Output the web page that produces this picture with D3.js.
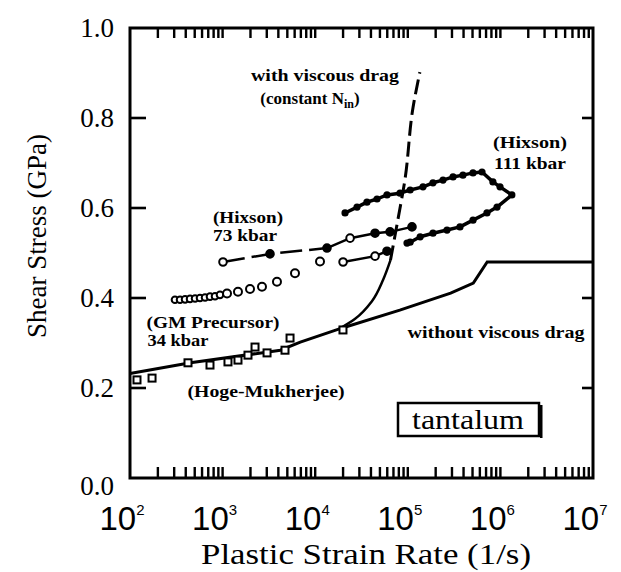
<!DOCTYPE html>
<html><head><meta charset="utf-8">
<script src="https://cdn.jsdelivr.net/npm/d3@7"></script>
<style>body{margin:0;background:#fff}svg{display:block}</style>
</head><body>
<svg id="chart" width="621" height="572"></svg>
<script>
// ---- data ----
const xDecades = [2, 3, 4, 5, 6, 7];
const yTicks = [0.0, 0.2, 0.4, 0.6, 0.8, 1.0];

const noDragRate   = [1e2, 4.5e2, 4.2e3, 6.9e3, 2.0e4, 8.2e4, 2.9e5, 5.1e5, 7.2e5, 1e7];
const noDragStress = [0.232, 0.256, 0.284, 0.302, 0.334, 0.373, 0.411, 0.433, 0.48, 0.48];

const viscousRate   = [1.8e4, 2.7e4, 4.1e4, 5.4e4, 6.5e4, 7.8e4, 9.3e4, 1.14e5, 1.35e5];
const viscousStress = [0.331, 0.354, 0.393, 0.44, 0.484, 0.573, 0.662, 0.824, 0.902];

const hogeRate   = [119, 173, 423, 731, 1143, 1466, 1880, 2240, 3020, 4720, 5350, 19950];
const hogeStress = [0.218, 0.222, 0.256, 0.251, 0.258, 0.262, 0.273, 0.291, 0.278, 0.284, 0.311, 0.329];

const gmRate   = [306, 347, 393, 445, 504, 570, 646, 731, 828, 937, 1116, 1466, 1977, 2663, 3865, 6050, 11270];
const gmStress = [0.396, 0.396, 0.397, 0.398, 0.399, 0.400, 0.401, 0.403, 0.404, 0.407, 0.410, 0.414, 0.420, 0.425, 0.436, 0.455, 0.481];

const h73Rate   = [1010, 3250, 1.34e4, 2.38e4, 4.43e4, 6.43e4, 1.11e5];
const h73Stress = [0.48, 0.498, 0.511, 0.533, 0.544, 0.547, 0.558];
const h73Open   = [true, false, false, true, false, false, false];

const hLowRate   = [2.0e4, 4.43e4, 5.96e4];
const hLowStress = [0.48, 0.493, 0.504];
const hLowOpen   = [true, true, false];

const h111Rate   = [2.1e4, 2.83e4, 3.62e4, 4.65e4, 5.96e4, 8.24e4, 1.06e5, 1.46e5, 1.87e5, 2.4e5, 3.08e5, 3.94e5, 5.06e5, 6.33e5,
                    8.3e5, 9.9e5, 1.33e6, 9.2e5, 7.16e5, 5.06e5, 3.66e5, 2.65e5, 1.87e5, 1.36e5, 1.06e5, 9.8e4];
const h111Stress = [0.589, 0.602, 0.613, 0.62, 0.629, 0.633, 0.64, 0.647, 0.656, 0.662, 0.669, 0.673, 0.678, 0.68,
                    0.658, 0.647, 0.629, 0.602, 0.589, 0.573, 0.558, 0.551, 0.544, 0.536, 0.524, 0.522];

// ---- chart ----
const svg = d3.select("#chart");
const L = 130, R = 593, T = 28, B = 478;
const x = d3.scaleLog().domain([1e2, 1e7]).range([L, R]);
const y = d3.scaleLinear().domain([0, 1]).range([B, T]);

const minor = [];
xDecades.forEach(d => { if (d < 7) for (let k = 1; k < 10; k++) minor.push(k * Math.pow(10, d)); });
const xTickVals = minor.slice(1);
const yInner = yTicks.slice(1, -1);

const serif = "'Liberation Serif','Times New Roman',serif";
const sans = "'Liberation Sans',Arial,sans-serif";

// frame
svg.append("rect").attr("x", x.range()[0]).attr("y", y.range()[1])
  .attr("width", x.range()[1] - x.range()[0]).attr("height", y.range()[0] - y.range()[1])
  .attr("fill", "none").attr("stroke", "#000").attr("stroke-width", 3);

// inward tick marks as thin filled rectangles positioned from the scales
const tg = svg.append("g").attr("fill", "#000");
tg.selectAll(null).data(xTickVals).join("rect")
  .attr("x", d => x(d) - 1.2).attr("y", B - 11).attr("width", 2.4).attr("height", 11);
tg.selectAll(null).data(xTickVals).join("rect")
  .attr("x", d => x(d) - 1.2).attr("y", T).attr("width", 2.4).attr("height", 10);
tg.selectAll(null).data(yInner).join("rect")
  .attr("x", L).attr("y", d => y(d) - 1.3).attr("width", 16).attr("height", 2.6);
tg.selectAll(null).data(yInner).join("rect")
  .attr("x", R - 11).attr("y", d => y(d) - 1.3).attr("width", 11).attr("height", 2.6);

// y tick labels
const gL = svg.append("g").attr("transform", `translate(${L},0)`)
  .call(d3.axisLeft(y).tickValues(yTicks).tickSize(0).tickPadding(16).tickFormat(d3.format(".1f")));
gL.select(".domain").remove();
gL.selectAll(".tick text").attr("font-family", serif).attr("font-size", 27).attr("fill", "#000")
  .attr("dy", d => d === 0 ? "0.62em" : "0.32em");

// decade labels 10^n
const xl = svg.append("g");
xDecades.forEach(d => {
  const t = xl.append("text").attr("x", x(Math.pow(10, d)) - 8).attr("y", 530)
    .attr("font-family", sans).attr("font-size", 33).attr("text-anchor", "middle");
  t.append("tspan").text("10");
  t.append("tspan").attr("font-size", 15).attr("dy", -15).text(d);
});

// axis titles
svg.append("text").attr("x", 366).attr("y", 564).attr("text-anchor", "middle")
  .attr("font-family", serif).attr("font-size", 29).attr("textLength", 330)
  .attr("lengthAdjust", "spacingAndGlyphs").text("Plastic Strain Rate (1/s)");
svg.append("text").attr("transform", "translate(46,236) rotate(-90)").attr("text-anchor", "middle")
  .attr("font-family", serif).attr("font-size", 27).text("Shear Stress (GPa)");

const line = d3.line().x(d => x(d[0])).y(d => y(d[1]));
const curve = d3.line().x(d => x(d[0])).y(d => y(d[1])).curve(d3.curveMonotoneY);
const zip = (a, b) => a.map((v, i) => [v, b[i]]);

// without viscous drag
svg.append("path").datum(zip(noDragRate, noDragStress)).attr("d", line)
  .attr("fill", "none").attr("stroke", "#000").attr("stroke-width", 3);

// with viscous drag: solid lower part, dashed upper part
const visc = zip(viscousRate, viscousStress);
const split = visc.findIndex(d => d[1] > 0.45);
svg.append("path").datum(visc.slice(0, split + 1)).attr("d", curve)
  .attr("fill", "none").attr("stroke", "#000").attr("stroke-width", 2.5);
svg.append("path").datum(visc.slice(split)).attr("d", curve)
  .attr("fill", "none").attr("stroke", "#000").attr("stroke-width", 3).attr("stroke-dasharray", "15,6");

// Hoge-Mukherjee squares
svg.append("g").selectAll("rect").data(zip(hogeRate, hogeStress)).join("rect")
  .attr("x", d => x(d[0]) - 3.5).attr("y", d => y(d[1]) - 3.5).attr("width", 7).attr("height", 7)
  .attr("fill", "#fff").attr("stroke", "#000").attr("stroke-width", 2);

// GM precursor circles
svg.append("g").selectAll("circle").data(zip(gmRate, gmStress)).join("circle")
  .attr("cx", d => x(d[0])).attr("cy", d => y(d[1])).attr("r", (d, i) => i < 10 ? 3.3 : 4)
  .attr("fill", "#fff").attr("stroke", "#000").attr("stroke-width", 2);

// Hixson 73 kbar
const h73 = zip(h73Rate, h73Stress);
svg.append("path").datum(h73.slice(0, 3)).attr("d", line).attr("fill", "none")
  .attr("stroke", "#000").attr("stroke-width", 2.5).attr("stroke-dasharray", "22,7");
svg.append("path").datum(h73.slice(2)).attr("d", line).attr("fill", "none")
  .attr("stroke", "#000").attr("stroke-width", 2.5);
svg.append("g").selectAll("circle").data(h73).join("circle")
  .attr("cx", d => x(d[0])).attr("cy", d => y(d[1])).attr("r", 3.8)
  .attr("fill", (d, i) => h73Open[i] ? "#fff" : "#000").attr("stroke", "#000").attr("stroke-width", 2);

// lower Hixson series
const hl = zip(hLowRate, hLowStress);
svg.append("path").datum(hl).attr("d", line).attr("fill", "none").attr("stroke", "#000").attr("stroke-width", 2.5);
svg.append("g").selectAll("circle").data(hl).join("circle")
  .attr("cx", d => x(d[0])).attr("cy", d => y(d[1])).attr("r", 3.8)
  .attr("fill", (d, i) => hLowOpen[i] ? "#fff" : "#000").attr("stroke", "#000").attr("stroke-width", 2);

// Hixson 111 kbar loop
const h111 = zip(h111Rate, h111Stress);
svg.append("path").datum(h111).attr("d", line).attr("fill", "none")
  .attr("stroke", "#000").attr("stroke-width", 3.5).attr("stroke-linejoin", "round");
svg.append("g").selectAll("circle").data(h111).join("circle")
  .attr("cx", d => x(d[0])).attr("cy", d => y(d[1])).attr("r", 3.6).attr("fill", "#000");

// annotations
function label(txt, cx, cy, w, size) {
  svg.append("text").attr("x", cx).attr("y", cy).attr("dy", "0.35em").attr("text-anchor", "middle")
    .attr("font-family", serif).attr("font-weight", "bold").attr("font-size", size || 17)
    .attr("textLength", w).attr("lengthAdjust", "spacingAndGlyphs").text(txt);
}
label("with viscous drag", 325, 75, 148);
const cn = svg.append("text").attr("x", 310).attr("y", 98).attr("dy", "0.35em").attr("text-anchor", "middle")
  .attr("font-family", serif).attr("font-weight", "bold").attr("font-size", 17);
cn.append("tspan").text("(constant N");
cn.append("tspan").attr("font-size", 12).attr("dy", 4).text("in");
cn.append("tspan").attr("dy", -4).text(")");
label("(Hixson)", 248, 217, 70);
label("73 kbar", 245, 235, 64);
label("(Hixson)", 530, 142, 74);
label("111 kbar", 530, 163, 72);
label("(GM Precursor)", 213, 322, 133);
label("34 kbar", 178, 340, 61);
label("(Hoge-Mukherjee)", 266, 391, 157);
label("without viscous drag", 496, 332, 177);

// tantalum box
svg.append("rect").attr("x", 398).attr("y", 403).attr("width", 141).attr("height", 33)
  .attr("fill", "#fff").attr("stroke", "#000").attr("stroke-width", 2.5);
svg.append("rect").attr("x", 540).attr("y", 405).attr("width", 2.5).attr("height", 33).attr("fill", "#000");
svg.append("text").attr("x", 468).attr("y", 420).attr("dy", "0.35em").attr("text-anchor", "middle")
  .attr("font-family", serif).attr("font-size", 27).attr("textLength", 112)
  .attr("lengthAdjust", "spacingAndGlyphs").text("tantalum");
</script>
</body></html>
